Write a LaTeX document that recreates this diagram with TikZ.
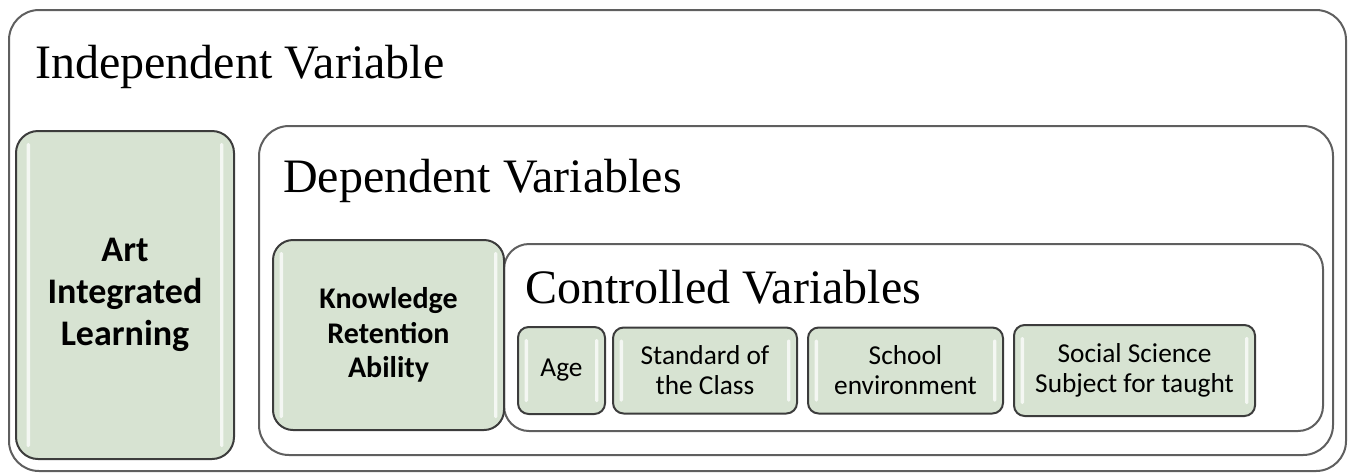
\documentclass[tikz,border=0pt]{standalone}
\usepackage{fontspec}
\setmainfont{Carlito}
\newfontfamily\titlefont{Liberation Serif}
\usetikzlibrary{positioning}

\definecolor{cellfill}{RGB}{215,227,210}
\definecolor{celledge}{RGB}{60,60,60}
\definecolor{frameedge}{RGB}{95,95,95}

\begin{document}
\begin{tikzpicture}[x=0.75pt, y=-0.75pt]
			\tikzset {frame/.style={draw=frameedge, line width=1.5pt, rounded corners=22.5pt, anchor=north west, inner sep=0pt},
				title/.style={anchor=base west, inner sep=0pt, font=\titlefont\fontsize{36}{40}\selectfont},
				bevel/.style={path picture={
					\fill[white, opacity=0.75, rounded corners=1pt]
						([shift={(#1,-9pt)}]path picture bounding box.north west) rectangle ([shift={(#1+2.5pt,9pt)}]path picture bounding box.south west)
						([shift={(-#1,-9pt)}]path picture bounding box.north east) rectangle ([shift={(-#1-2.5pt,9pt)}]path picture bounding box.south east);
				}},
				bevel/.default=5pt,
				cell/.style={draw=celledge, line width=1.5pt, fill=cellfill, align=center, inner sep=0pt, bevel},
				bigcell/.style={cell, anchor=north west, rounded corners=15pt, font=\bfseries\fontsize{22.5}{26}\selectfont},
				smallcell/.style={cell, rounded corners=8pt, minimum height=64.5pt, font=\fontsize{20.5}{22.5}\selectfont} }
			
			\useasboundingbox (0,0) rectangle (1352,472);
			
			\node[frame, minimum width=1002.75pt, minimum height=345.75pt] (indep) at (8,9) {};
			\node[bigcell, bevel=8pt, minimum width=163.5pt, minimum height=246pt, rounded corners=16.5pt, font=\bfseries\fontsize{27}{31.5}\selectfont] (art) at (15,130) {Art\\Integrated\\Learning};
			\node[frame, minimum width=805.5pt, minimum height=246.75pt] (dep) at (258,125) {};
			\node[frame, minimum width=614.25pt, minimum height=140.25pt, rounded corners=18.75pt] (ctrl) at (503,243) {};
			\node[bigcell, minimum width=173.25pt, minimum height=142.5pt] (retention) at (272,239) {Knowledge\\Retention\\Ability};
			
			\node[smallcell, anchor=north west, minimum width=65.25pt, minimum height=65.25pt] (age) at (517,326) {Age};
			\node[smallcell, right=4.5pt of age, minimum width=138pt] (standard) {Standard of\\the Class};
			\node[smallcell, right=6.75pt of standard, minimum width=146.25pt] (school) {School\\environment};
			\node[smallcell, right=6.75pt of school, minimum width=180.75pt, minimum height=68.25pt] (subject) {Social Science\\Subject for taught};
			
			\node[title] (indeptitle) at (35,78) {Independent Variable};
			\node[title] (deptitle) at (283,192) {Dependent Variables};
			\node[title] (ctrltitle) at (525,303) {Controlled Variables};
		\end{tikzpicture}
\end{document}
